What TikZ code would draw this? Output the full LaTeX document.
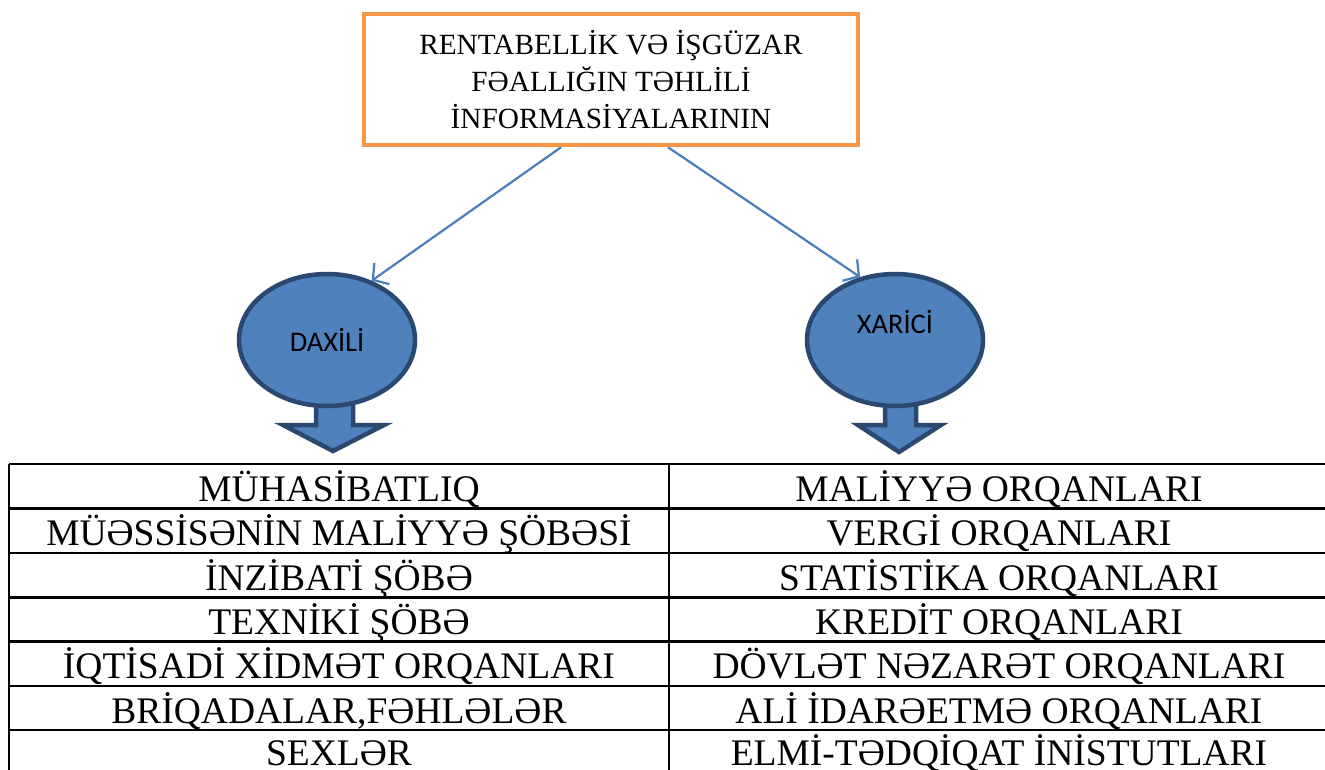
\documentclass[tikz,border=0pt]{standalone}
\usepackage{fontspec}
\setmainfont{Liberation Serif}
\newfontfamily\ovalfont{Carlito}
\usetikzlibrary{shapes.geometric,arrows.meta}
\definecolor{boxorange}{HTML}{F79646}
\definecolor{linkblue}{HTML}{4A7EBB}
\definecolor{ovalblue}{HTML}{4F81BD}
\definecolor{ovalline}{HTML}{2A4870}
\begin{document}
\begin{tikzpicture}[x=1pt,y=-1pt,
  topbox/.style={draw=boxorange, line width=4.5pt, minimum width=494pt, minimum height=131pt, inner sep=0pt, align=center, font=\fontsize{29.3}{37}\selectfont},
  link/.style={draw=linkblue, line width=2.2pt, -{Straight Barb[length=11pt,width=26pt,line width=2.2pt]}},
  oval/.style={ellipse, fill=ovalblue, draw=ovalline, line width=4.5pt, minimum width=176pt, minimum height=132pt, inner sep=0pt, font=\ovalfont\fontsize{28.4}{34}\selectfont},
  ovaltext/.style={inner sep=0pt, font=\ovalfont\fontsize{28.4}{34}\selectfont},
  blockarrow/.style={fill=ovalblue, draw=ovalline, line width=4.5pt, line join=miter},
  grid/.style={line width=2.5pt},
  cell/.style={anchor=base, inner sep=0pt, font=\fontsize{37.5}{45}\selectfont}]
\useasboundingbox (0,0) rectangle (1325,769);
% top box
\node[topbox] (top) at (611,79.5) {RENTABELLİK VƏ İŞGÜZAR\\FƏALLIĞIN TƏHLİLİ\\İNFORMASİYALARININ};
% block arrows under the ovals
\draw[blockarrow] (316,395) -- (316,425) -- (283,425) -- (333,451) -- (384,425) -- (353,425) -- (353,395) -- cycle;
\draw[blockarrow] (885,395) -- (885,425) -- (858,425) -- (899,452) -- (941,425) -- (916,425) -- (916,395) -- cycle;
% ovals
\node[oval] (daxili) at (327,340) {DAXİLİ};
\node[oval] (xarici) at (895,340) {};
\node[ovaltext] (xaricitext) at (895,322) {XARİCİ};
\draw[link] ([xshift=-50pt]top.south) -- (daxili.53);
\draw[link] ([xshift=57pt]top.south) -- (xarici.119);
% table
\draw[grid] (9,464) -- (1330,464);
\draw[grid] (9,508.5) -- (1330,508.5);
\draw[grid] (9,553) -- (1330,553);
\draw[grid] (9,597.5) -- (1330,597.5);
\draw[grid] (9,641.5) -- (1330,641.5);
\draw[grid] (9,686) -- (1330,686);
\draw[grid] (9,730) -- (1330,730);
\draw[grid] (9,464) -- (9,780);
\draw[grid] (669,464) -- (669,780);
\node[cell] (l1) at (339,501) {MÜHASİBATLIQ};
\node[cell] (l2) at (339,545.5) {MÜƏSSİSƏNİN MALİYYƏ ŞÖBƏSİ};
\node[cell] (l3) at (339,590) {İNZİBATİ ŞÖBƏ};
\node[cell] (l4) at (339,634) {TEXNİKİ ŞÖBƏ};
\node[cell] (l5) at (339,678.5) {İQTİSADİ XİDMƏT ORQANLARI};
\node[cell] (l6) at (339,723) {BRİQADALAR,FƏHLƏLƏR};
\node[cell] (l7) at (339,765) {SEXLƏR};
\node[cell] (r1) at (999,501) {MALİYYƏ ORQANLARI};
\node[cell] (r2) at (999,545.5) {VERGİ ORQANLARI};
\node[cell] (r3) at (999,590) {STATİSTİKA ORQANLARI};
\node[cell] (r4) at (999,634) {KREDİT ORQANLARI};
\node[cell] (r5) at (999,678.5) {DÖVLƏT NƏZARƏT ORQANLARI};
\node[cell] (r6) at (999,723) {ALİ İDARƏETMƏ ORQANLARI};
\node[cell] (r7) at (999,765) {ELMİ-TƏDQİQAT İNİSTUTLARI};
\end{tikzpicture}
\end{document}
